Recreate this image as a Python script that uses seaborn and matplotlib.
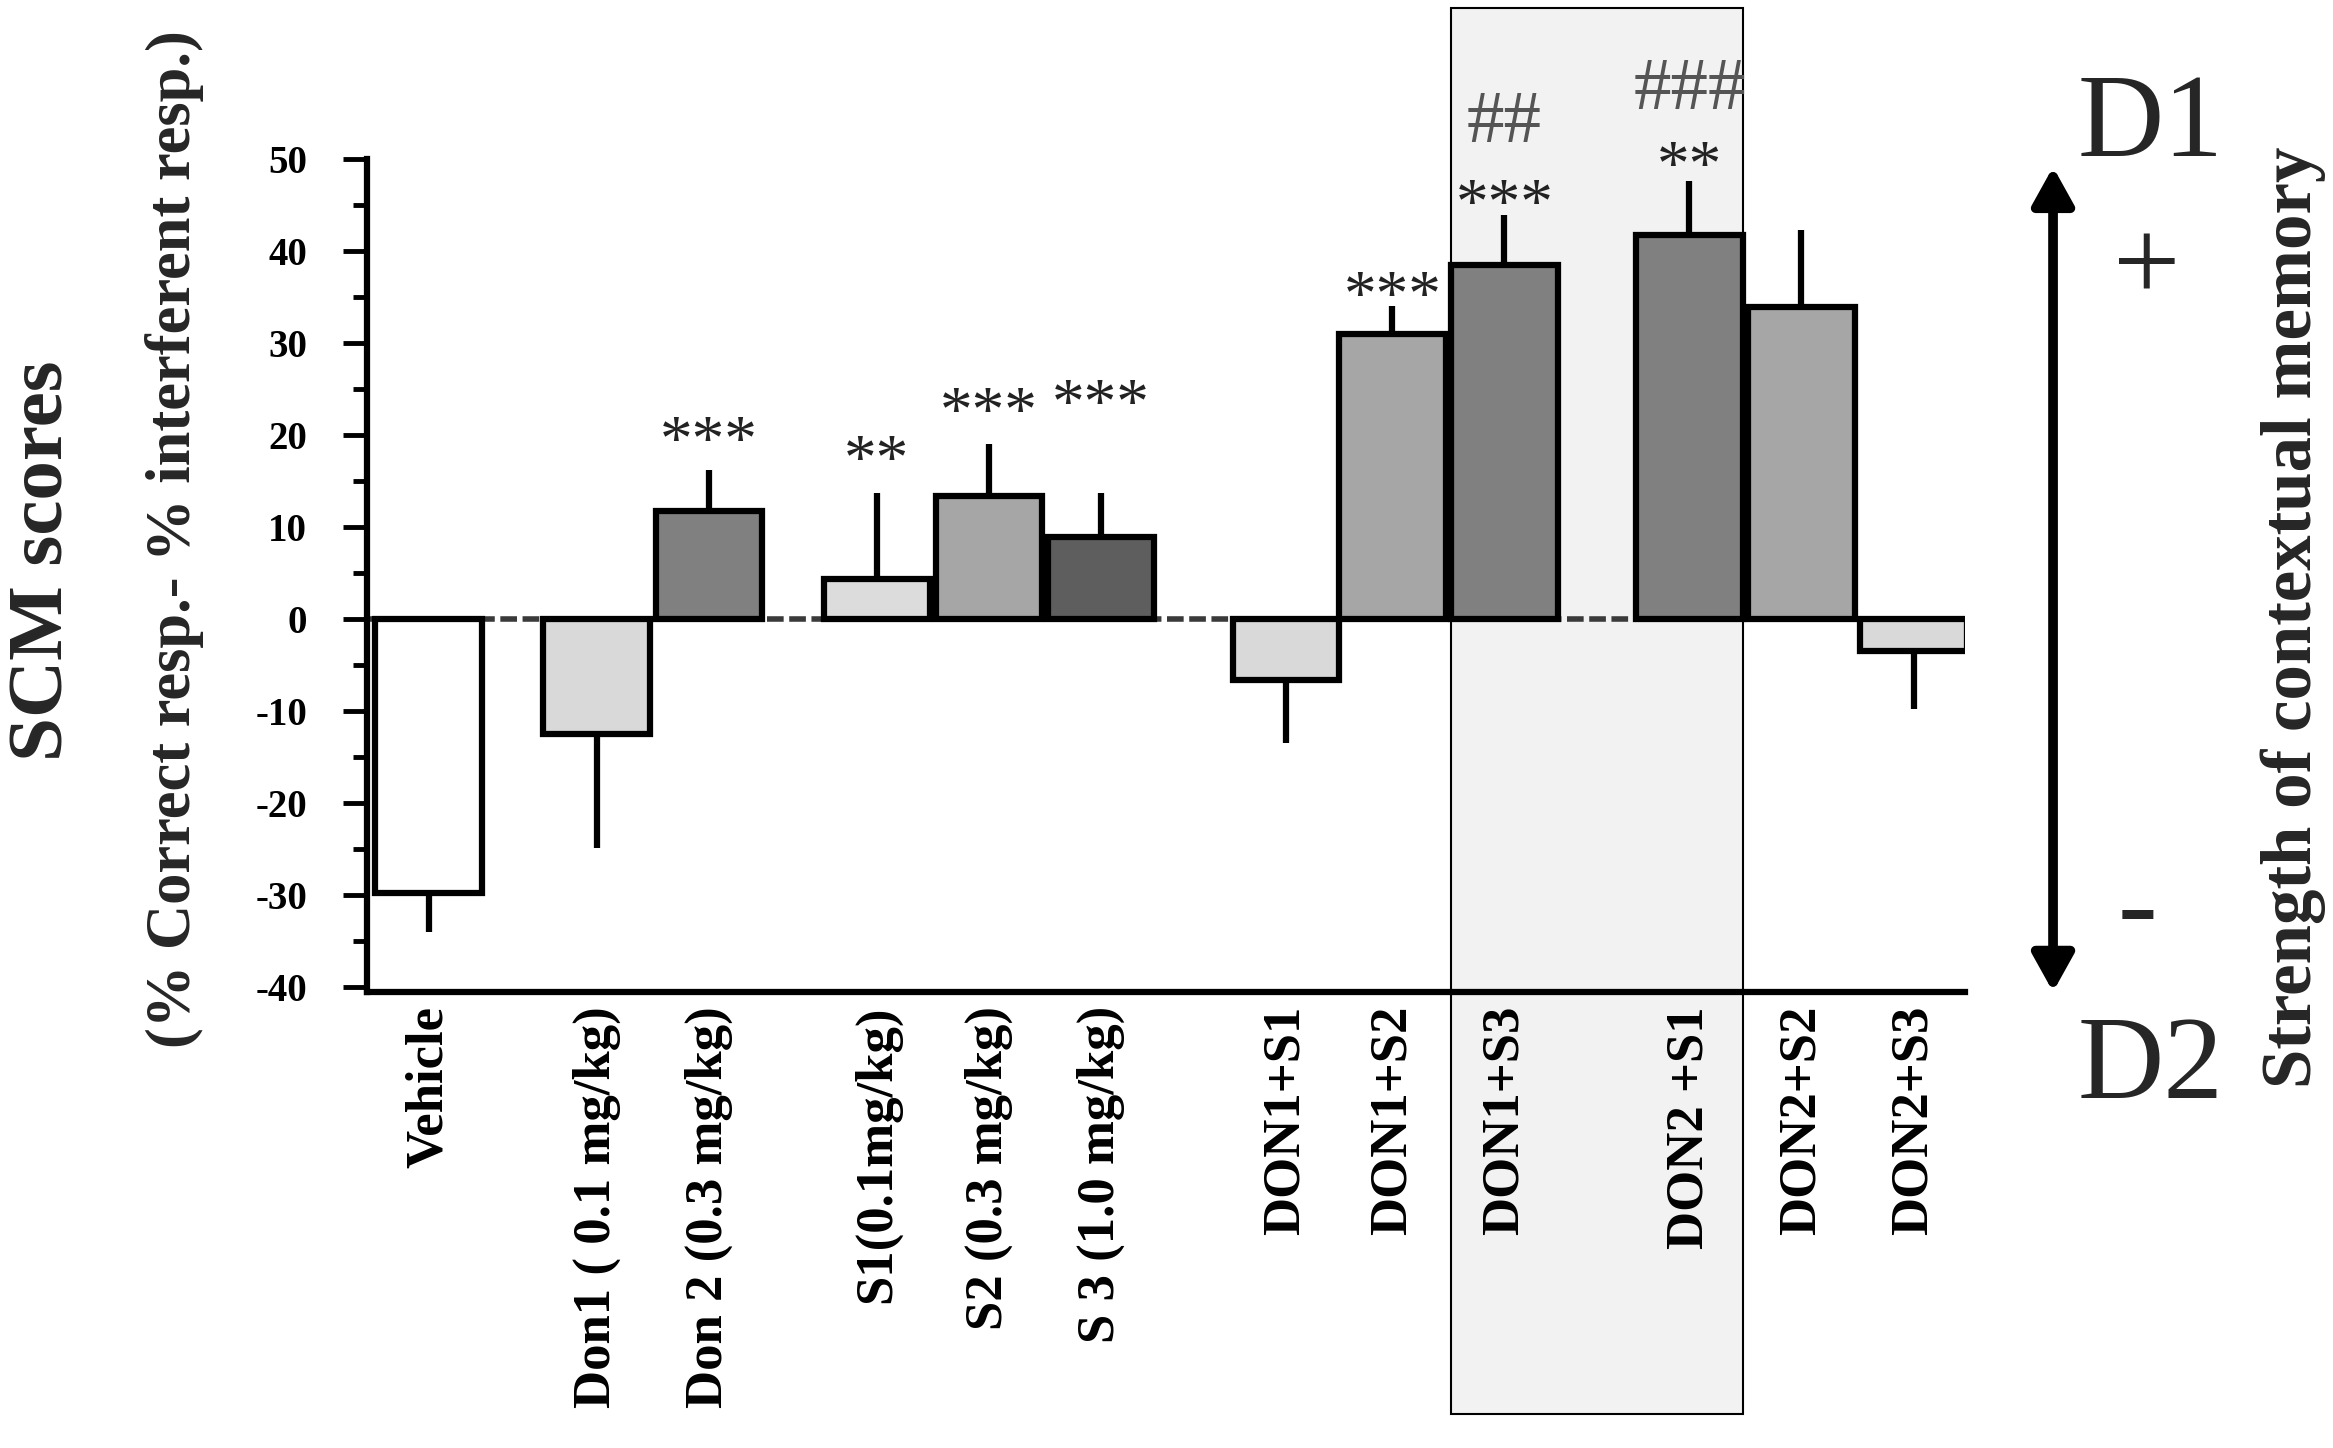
import numpy as np
import pandas as pd
import seaborn as sns
import matplotlib.pyplot as plt
from matplotlib.patches import Rectangle, FancyArrowPatch
from matplotlib.transforms import blended_transform_factory
from matplotlib.ticker import MultipleLocator

# data
groups = ["Vehicle", "Don1 ( 0.1 mg/kg)", "Don 2 (0.3 mg/kg)",
          "S1(0.1mg/kg)", "S2 (0.3 mg/kg)", "S 3 (1.0 mg/kg)",
          "DON1+S1", "DON1+S2", "DON1+S3", "DON2 +S1", "DON2+S2", "DON2+S3"]
scores = [-29.7, -12.5, 11.8, 4.4, 13.4, 8.9, -6.6, 31.0, 38.5, 41.7, 33.9, -3.5]
sem = [4.3, 12.3, 4.4, 9.3, 5.6, 4.8, 6.8, 3.0, 5.4, 5.9, 8.4, 6.2]
stars = ["", "", "***", "**", "***", "***", "", "***", "***", "**", "", ""]
hashes = ["", "", "", "", "", "", "", "", "##", "###", "", ""]

# layout: where each group sits on the x axis, fills, annotation heights
slot = [0, 1.5, 2.5, 4, 5, 6, 7.65, 8.6, 9.6, 11.25, 12.25, 13.25]
bar_colors = ["#ffffff", "#d9d9d9", "#808080", "#dcdcdc", "#a6a6a6", "#5e5e5e",
              "#d9d9d9", "#a6a6a6", "#808080", "#808080", "#a6a6a6", "#d9d9d9"]
star_y = [0, 0, 17.3, 15.2, 20.5, 21.3, 0, 33.1, 43.1, 47.2, 0, 0]
hash_y = [0, 0, 0, 0, 0, 0, 0, 0, 51.8, 55.4, 0, 0]

sns.set_style("white")
plt.rcParams['font.family'] = ['Liberation Serif', 'DejaVu Serif']
plt.rcParams['axes.unicode_minus'] = False

fig = plt.figure(figsize=(23.33, 14.48), dpi=100)
ax = fig.add_axes([0.1573, 0.3149, 0.685, 0.5753])
ax.patch.set_alpha(0)

df = pd.DataFrame({"slot": slot, "score": scores, "group": groups})
sns.barplot(data=df, x="slot", y="score", hue="group", hue_order=groups,
            palette=bar_colors, native_scale=True, width=1.0,
            edgecolor="black", linewidth=4.5, errorbar=None, legend=False,
            ax=ax, zorder=2)

# one sided error bars, drawn away from zero
tips = np.array(scores) + np.sign(scores) * np.array(sem)
ax.vlines(slot, scores, tips, colors="black", lw=4.5, zorder=1.8)

# dotted zero line
ax.hlines(0, -0.55, slot[10], colors="#3a3a3a", lw=4, linestyles=(0, (3, 1)), zorder=1.5)

# shaded box around DON1+S3 and DON2+S1
bw = ax.patches[0].get_width()
x0 = slot[8] - bw / 2
x1 = slot[9] + bw / 2
trans = blended_transform_factory(ax.transData, fig.transFigure)
ax.add_patch(Rectangle((x0, 0.0235), x1 - x0, 0.971, transform=trans,
                       facecolor="#f2f2f2", edgecolor="black", lw=1.5,
                       zorder=0.5, clip_on=False))

for x, s, y in zip(slot, stars, star_y):
    if s:
        ax.text(x, y, s, ha="center", va="baseline", fontsize=47, color="#222222")
for x, s, y in zip(slot, hashes, hash_y):
    if s:
        ax.text(x, y, s, ha="center", va="baseline", fontsize=54, color="#555555")

ax.set_xlim(-0.55, 13.71)
ax.set_ylim(-40.5, 50)
ax.set_xlabel("")
ax.set_ylabel("")

ax.set_xticks(slot)
ax.set_xticklabels(groups, rotation=90, fontsize=38, fontweight="bold")
ax.tick_params(axis="x", direction="in", length=10, width=3.5, pad=10, colors="black")

ax.set_yticks(range(-40, 51, 10))
ax.yaxis.set_minor_locator(MultipleLocator(5))
ax.tick_params(axis="y", which="major", direction="out", length=17, width=3.5,
               labelsize=28, pad=26, colors="black", left=True)
ax.tick_params(axis="y", which="minor", direction="out", length=10, width=3.5,
               colors="black", left=True)
for lab in ax.get_yticklabels():
    lab.set_fontweight("bold")

for side in ["top", "right"]:
    ax.spines[side].set_visible(False)
for side in ["left", "bottom"]:
    ax.spines[side].set_linewidth(4.5)
    ax.spines[side].set_color("black")

# axis titles
fig.text(0.019, 0.613, "SCM scores", rotation=90, ha="center", va="center",
         fontsize=57, fontweight="bold")
fig.text(0.075, 0.628, "(% Correct resp.- % interferent resp.)", rotation=90,
         ha="center", va="center", fontsize=45, fontweight="bold")
fig.text(0.983, 0.574, "Strength of contextual memory", rotation=90,
         ha="center", va="center", fontsize=51, fontweight="bold")

# D1 / D2 double arrow on the right
fig.add_artist(FancyArrowPatch((0.880, 0.315), (0.880, 0.8847), transform=fig.transFigure,
                               arrowstyle="<|-|>,head_length=0.45,head_width=0.25",
                               mutation_scale=50, lw=7, color="black",
                               shrinkA=0, shrinkB=0))
fig.text(0.9216, 0.892, "D1", ha="center", va="baseline", fontsize=86)
fig.text(0.9216, 0.2417, "D2", ha="center", va="baseline", fontsize=86)
fig.text(0.920, 0.792, "+", ha="center", va="baseline", fontsize=86)
fig.text(0.916, 0.3488, "-", ha="center", va="baseline", fontsize=86)

fig.savefig("out.png", dpi=100)
